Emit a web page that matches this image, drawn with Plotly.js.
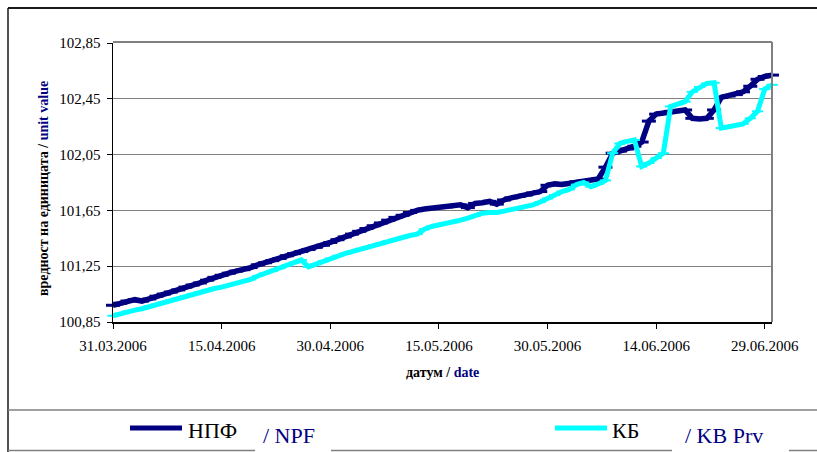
<!DOCTYPE html>
<html>
<head>
<meta charset="utf-8">
<script src="https://cdn.plot.ly/plotly-3.0.1.min.js"></script>
<style>html,body{margin:0;padding:0;background:#fff;}#chart{width:817px;height:452px;}</style>
</head>
<body>
<div id="chart"></div>
<script>
// ---- data ----
var startDate = '2006-03-31';
var npfValues = [
 100.970, 100.985, 101.000, 101.010, 101.000, 101.015, 101.035, 101.050, 101.065, 101.080,
 101.100, 101.115, 101.130, 101.150, 101.170, 101.185, 101.200, 101.215, 101.225, 101.240,
 101.260, 101.275, 101.290, 101.305, 101.325, 101.340, 101.355, 101.370, 101.385, 101.400,
 101.420, 101.440, 101.460, 101.480, 101.500, 101.520, 101.540, 101.560, 101.580, 101.600,
 101.615, 101.635, 101.650, 101.660, 101.665, 101.670, 101.675, 101.685, 101.690, 101.670,
 101.700, 101.705, 101.715, 101.695, 101.725, 101.740, 101.750, 101.760, 101.775, 101.785,
 101.830, 101.840, 101.835, 101.845, 101.855, 101.860, 101.865, 101.875, 101.960, 102.060,
 102.075, 102.090, 102.110, 102.140, 102.290, 102.340, 102.350, 102.360, 102.365, 102.370,
 102.310, 102.305, 102.310, 102.370, 102.460, 102.470, 102.480, 102.500, 102.540, 102.590,
 102.610, 102.620];
var kbValues = [
 100.895, 100.910, 100.925, 100.935, 100.945, 100.960, 100.975, 100.990, 101.005, 101.020,
 101.035, 101.050, 101.065, 101.080, 101.090, 101.100, 101.115, 101.130, 101.140, 101.155,
 101.180, 101.200, 101.215, 101.235, 101.255, 101.275, 101.295, 101.245, 101.265, 101.285,
 101.305, 101.325, 101.340, 101.355, 101.370, 101.385, 101.400, 101.415, 101.430, 101.445,
 101.460, 101.470, 101.480, 101.515, 101.535, 101.545, 101.555, 101.565, 101.580, 101.595,
 101.610, 101.630, 101.635, 101.635, 101.645, 101.655, 101.665, 101.675, 101.690, 101.710,
 101.735, 101.760, 101.785, 101.800, 101.835, 101.850, 101.820, 101.840, 101.865, 102.060,
 102.130, 102.145, 102.155, 101.965, 101.990, 102.025, 102.060, 102.395, 102.410, 102.430,
 102.500, 102.535, 102.560, 102.565, 102.240, 102.250, 102.260, 102.270, 102.310, 102.360,
 102.520, 102.550];
var tickDates = ['2006-03-31','2006-04-15','2006-04-30','2006-05-15','2006-05-30','2006-06-14','2006-06-29'];
var tickLabels = ['31.03.2006','15.04.2006','30.04.2006','15.05.2006','30.05.2006','14.06.2006','29.06.2006'];
var yTicks = [100.85, 101.25, 101.65, 102.05, 102.45, 102.85];
var seriesNames = ['НПФ', 'КБ'];
var seriesNamesEn = ['/ NPF', '/ KB Prv'];

// dates, one per day
var dates = [];
(function(){
  var t0 = Date.parse(startDate + 'T00:00:00Z');
  for (var i = 0; i < npfValues.length; i++) {
    dates.push(new Date(t0 + i*86400000).toISOString().slice(0,10));
  }
})();

// ---- layout helpers (pixels -> paper) ----
var W = 817, H = 452, L = 113, R = 45, T = 43, B = 130;
var PW = W - L - R, PH = H - T - B;
function X(px){ return (px - L) / PW; }
function Y(py){ return (H - B - py) / PH; }

var navy = '#000080', cyan = '#00FFFF';
var serif = 'Liberation Serif';

var traces = [
 {x: dates, y: npfValues, type: 'scatter', mode: 'lines+markers', name: seriesNames[0],
  line: {color: navy, width: 5.5}, cliponaxis: false,
  marker: {symbol: 'line-ew', size: 10, color: navy, line: {color: navy, width: 3}}},
 {x: dates, y: kbValues, type: 'scatter', mode: 'lines+markers', name: seriesNames[1],
  line: {color: cyan, width: 5}, cliponaxis: false,
  marker: {symbol: 'line-ew', size: 8, color: cyan, line: {color: cyan, width: 2}}}
];

function hline(x0, x1, y, color, w){ return {type:'line', xref:'paper', yref:'paper', x0:X(x0), x1:X(x1), y0:Y(y), y1:Y(y), line:{color:color, width:w}}; }
function vline(x, y0, y1, color, w){ return {type:'line', xref:'paper', yref:'paper', x0:X(x), x1:X(x), y0:Y(y0), y1:Y(y1), line:{color:color, width:w}}; }

var shapes = [
 hline(8, 817, 8, '#1a1a1a', 2),
 vline(8, 8, 452, '#1a1a1a', 1.5),
 hline(8, 817, 410, '#808080', 1.5),
 hline(8, 255, 450.5, '#808080', 1.5),
 hline(331, 672, 450.5, '#808080', 1.5),
 hline(789, 817, 450.5, '#808080', 1.5),
 hline(113, 772, 42, '#808080', 2),
 vline(772, 42, 322, '#808080', 2),
 hline(130, 182, 428, navy, 5),
 hline(555, 607, 428, cyan, 5)
];

var annotations = [
 {xref:'paper', yref:'paper', x:0, xshift:-70, y:Y(189), textangle:-90, showarrow:false,
  xanchor:'center', yanchor:'middle',
  text:'<b>вредност на единицата / <span style="color:#000080">unit value</span></b>',
  font:{family:serif, size:14, color:'#000'}},
 {xref:'paper', yref:'paper', x:X(442), y:Y(372), showarrow:false, xanchor:'center', yanchor:'middle',
  text:'<b>датум / <span style="color:#000080">date</span></b>', font:{family:serif, size:14, color:'#000'}},
 {xref:'paper', yref:'paper', x:X(186), y:Y(430), showarrow:false, xanchor:'left', yanchor:'middle',
  text:seriesNames[0], font:{family:serif, size:22, color:'#000'}},
 {xref:'paper', yref:'paper', x:X(261), y:Y(435), showarrow:false, xanchor:'left', yanchor:'middle',
  text:seriesNamesEn[0], font:{family:serif, size:22, color:navy}},
 {xref:'paper', yref:'paper', x:X(610), y:Y(430), showarrow:false, xanchor:'left', yanchor:'middle',
  text:seriesNames[1], font:{family:serif, size:22, color:'#000'}},
 {xref:'paper', yref:'paper', x:X(683), y:Y(435), showarrow:false, xanchor:'left', yanchor:'middle',
  text:seriesNamesEn[1], font:{family:serif, size:22, color:navy}}
];

var layout = {
 width: W, height: H,
 margin: {l: L, r: R, t: T, b: B, pad: 0},
 paper_bgcolor: '#fff', plot_bgcolor: '#fff',
 showlegend: false,
 separators: ',.',
 font: {family: serif, size: 14, color: '#000'},
 xaxis: {type: 'date', range: [startDate, '2006-06-30'], tickvals: tickDates, ticktext: tickLabels,
   showgrid: false, zeroline: false, showline: true, linecolor: '#000', linewidth: 1.5,
   ticks: 'outside', ticklen: 5, tickcolor: '#000', tickwidth: 1, ticklabelstandoff: 4,
   tickfont: {family: serif, size: 15, color: '#000'}, fixedrange: true},
 yaxis: {range: [100.85, 102.85], tickvals: yTicks, tickformat: '.2f',
   showgrid: true, gridcolor: '#808080', gridwidth: 1, zeroline: false,
   showline: true, linecolor: '#000', linewidth: 1.5,
   ticks: 'outside', ticklen: 5, tickcolor: '#000', tickwidth: 1, ticklabelstandoff: 3,
   tickfont: {family: serif, size: 15, color: '#000'}, fixedrange: true},
 shapes: shapes,
 annotations: annotations
};

Plotly.newPlot('chart', traces, layout, {displayModeBar: false, staticPlot: true});
</script>
</body>
</html>
